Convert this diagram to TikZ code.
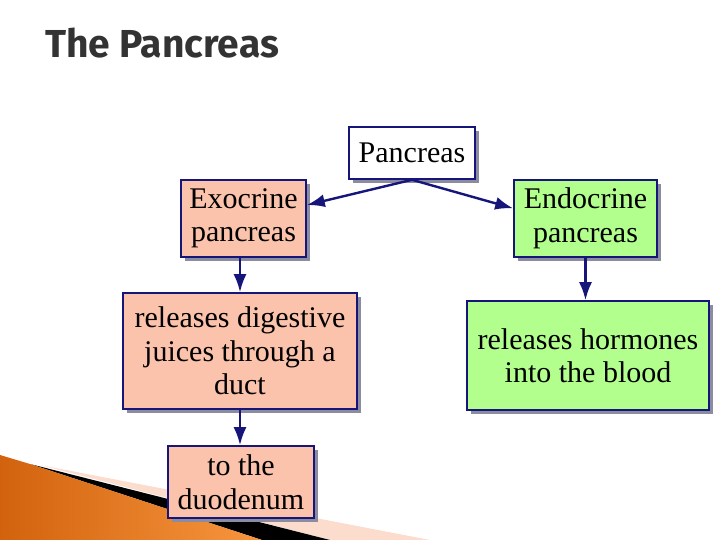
\documentclass[tikz,border=0pt]{standalone}
\usepackage{fontspec}
\setmainfont{Liberation Serif}
\newfontfamily\titlefont{Fira Sans}
\usetikzlibrary{shadows,arrows.meta}
\definecolor{navy}{HTML}{16167A}
\definecolor{peach}{HTML}{FCC3AC}
\definecolor{lgreen}{HTML}{B2FF8E}
\definecolor{boxshadow}{HTML}{8C8CA0}
\definecolor{orangeL}{HTML}{F7963E}
\definecolor{orangeD}{HTML}{D2620E}
\definecolor{bandpeach}{HTML}{FBDCCD}
\definecolor{titlegray}{HTML}{333333}
\tikzset{
  box/.style={draw=navy, line width=1.6pt, align=center, inner sep=2pt,
    font=\fontsize{30}{33.5}\selectfont,
    drop shadow={shadow xshift=4pt, shadow yshift=-4pt, fill=boxshadow, opacity=1}},
  conn/.style={draw=navy, line width=2.4pt, -{Latex[length=18pt,width=13pt]}},
}
\begin{document}
\begin{tikzpicture}[x=1pt,y=-1pt]
\useasboundingbox (0,0) rectangle (720,540);
% bottom-left decoration
\fill[bandpeach] (40,465) -- (430,540) -- (330,540) -- cycle;
\fill[black] (30,464) -- (330,540) -- (262,540) -- cycle;
\shade[left color=orangeD, right color=orangeL] (0,455) -- (30,464) -- (262,540) -- (0,540) -- cycle;
% title
\node[anchor=base west, inner sep=0pt, font=\titlefont\bfseries\fontsize{39}{44}\selectfont, text=titlegray] (title) at (45,58) {The Pancreas};
% nodes
\node[box, fill=white, minimum width=126pt, minimum height=52pt] (P) at (412,153) {Pancreas};
\node[box, fill=peach, minimum width=125pt, minimum height=77pt] (E) at (243.5,218.5) {Exocrine\\pancreas};
\node[box, fill=lgreen, minimum width=143pt, minimum height=77pt] (D) at (585.5,218.5) {Endocrine\\pancreas};
\node[box, fill=peach, minimum width=234pt, minimum height=116pt] (EJ) at (240,351) {releases digestive\\juices through a\\duct};
\node[box, fill=lgreen, minimum width=242pt, minimum height=109pt] (DH) at (588,355.5) {releases hormones\\into the blood};
\node[box, fill=peach, minimum width=146pt, minimum height=72pt] (DU) at (241,482) {to the\\duodenum};
% connectors
\draw[conn] (P.south) -- (E.12);
\draw[conn] (P.south) -- (D.172);
\draw[conn] (E.south -| EJ.north) -- (EJ.north);
\draw[conn] (D.south) -- (D.south |- DH.north);
\draw[conn] (EJ.south) -- (EJ.south |- DU.north);
\end{tikzpicture}
\end{document}
